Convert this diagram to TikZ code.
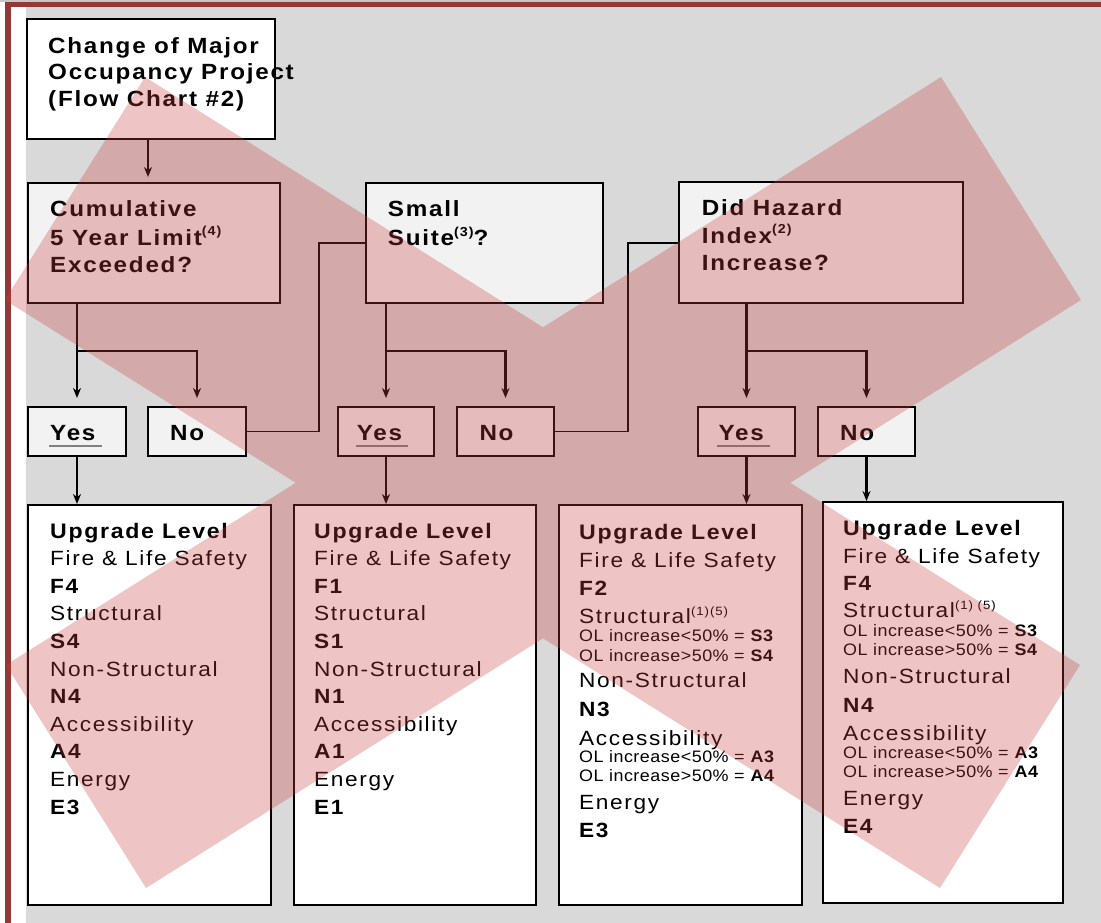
\documentclass[tikz,border=0pt]{standalone}
\usepackage{fontspec}
\setmainfont{Liberation Sans}
\newfontfamily\wide[FakeStretch=1.1,LetterSpace=8]{Liberation Sans}
\newfontfamily\snug[FakeStretch=1.08,LetterSpace=3]{Liberation Sans}
\usetikzlibrary{arrows.meta,calc}

\definecolor{paper}{HTML}{D9D9D9}
\definecolor{frame}{HTML}{953735}
\definecolor{pale}{HTML}{F2F2F2}
\definecolor{veil}{RGB}{200,60,60}
\definecolor{rulegray}{HTML}{808080}

% raised footnote marker: raise (pt), size (pt), text
\newcommand\supnote[3]{\raisebox{#1pt}{\fontsize{#2}{#2}\selectfont #3}}

\tikzset{
  box/.style={draw=black,line width=2pt,inner sep=0pt},
  startbox/.style={box,fill=white},
  askbox/.style={box,fill=pale},
  ansbox/.style={box,fill=pale},
  resbox/.style={box,fill=white},
  head/.style={anchor=base west,inner sep=0pt,font=\wide\bfseries\fontsize{22}{26}\selectfont},
  ans/.style={anchor=base west,inner sep=0pt,font=\wide\bfseries\fontsize{22}{26}\selectfont},
  item/.style={anchor=base west,inner sep=0pt,font=\wide\fontsize{20.6}{24}\selectfont},
  itemb/.style={anchor=base west,inner sep=0pt,font=\wide\bfseries\fontsize{20.6}{24}\selectfont},
  title/.style={anchor=base west,inner sep=0pt,font=\wide\bfseries\fontsize{21}{24}\selectfont},
  note/.style={anchor=base west,inner sep=0pt,font=\snug\fontsize{16.6}{19}\selectfont},
  arr/.style={line width=2.5pt,-{Stealth[length=10pt,width=8pt]}},
  link/.style={line width=1.8pt},
  uline/.style={rulegray,line width=2pt},
}

\begin{document}
\begin{tikzpicture}[x=1pt,y=-1pt]
\useasboundingbox (0,0) rectangle (1101,923);

% page background and frame
\fill[white] (0,0) rectangle (1101,923);
\fill[black!22] (0,0) rectangle (1101,2);
\fill[paper] (26,7) rectangle (1101,923);
\fill[frame] (5,2) rectangle (1101,7);
\fill[frame] (5,2) rectangle (11,923);

% boxes
\node[startbox,minimum width=248pt,minimum height=120pt] (start) at (151,79) {};
\node[askbox,minimum width=252pt,minimum height=120pt] (cum) at (154,243) {};
\node[askbox,minimum width=237pt,minimum height=120pt] (small) at (484.5,243) {};
\node[askbox,minimum width=284pt,minimum height=121pt] (hazard) at (821,242.5) {};

\node[ansbox,minimum width=98pt,minimum height=49pt] (yes1) at (77,431.5) {};
\node[ansbox,minimum width=98pt,minimum height=49pt] (no1) at (197,431.5) {};
\node[ansbox,minimum width=96pt,minimum height=49pt] (yes2) at (386,431.5) {};
\node[ansbox,minimum width=97pt,minimum height=49pt] (no2) at (505.5,431.5) {};
\node[ansbox,minimum width=97pt,minimum height=49pt] (yes3) at (746.5,431.5) {};
\node[ansbox,minimum width=97pt,minimum height=49pt] (no3) at (866.5,431.5) {};

\node[resbox,minimum width=243pt,minimum height=400pt] (r1) at (149.5,705) {};
\node[resbox,minimum width=242pt,minimum height=400pt] (r2) at (415,705) {};
\node[resbox,minimum width=243pt,minimum height=400pt] (r3) at (680.5,705) {};
\node[resbox,minimum width=240pt,minimum height=401pt] (r4) at (943,702.5) {};

% connectors
\draw[arr,shorten >=5pt] ([xshift=-3pt]start.south) -- ([xshift=-6pt]cum.north);

\coordinate (fork1) at (77,351);
\coordinate (fork2) at (386,351);
\coordinate (fork3) at (746.5,351);
\draw[arr,shorten >=8pt] (cum.south -| yes1) -- (yes1.north);
\draw[arr,shorten >=8pt] (fork1) -| (no1.north);
\draw[arr,shorten >=8pt] (small.south -| yes2) -- (yes2.north);
\draw[arr,shorten >=8pt] (fork2) -| (no2.north);
\draw[arr,shorten >=8pt] (hazard.south -| yes3) -- (yes3.north);
\draw[arr,shorten >=8pt] (fork3) -| (no3.north);

\coordinate (bend1) at (319,243);
\coordinate (bend2) at (628,243);
\draw[link] (no1.east) -| (bend1) -- (small.west |- bend1);
\draw[link] (no2.east) -| (bend2) -- (hazard.west |- bend2);

\draw[arr] (yes1.south) -- (yes1.south |- r1.north);
\draw[arr] (yes2.south) -- (yes2.south |- r2.north);
\draw[arr] (yes3.south) -- (yes3.south |- r3.north);
\draw[arr] (no3.south) -- (no3.south |- r4.north);

% question texts
\node[head] (s1) at (48,53.3) {Change of Major};
\node[head] (s2) at (48,80) {Occupancy Project};
\node[head] (s3) at (48,107) {(Flow Chart \#2)};

\node[head] (c1) at (50,216.7) {Cumulative};
\node[head] (c2) at (50,245) {5 Year Limit\supnote{10}{13}{(4)}};
\node[head] (c3) at (50,272.7) {Exceeded?};

\node[head] (m1) at (387.7,216.7) {Small};
\node[head] (m2) at (387.7,245) {Suite\supnote{9}{13}{(3)}?};

\node[head] (h1) at (701.7,215) {Did Hazard};
\node[head] (h2) at (701.7,243.3) {Index\supnote{10}{13}{(2)}};
\node[head] (h3) at (701.7,270) {Increase?};

% answers
\node[ans] (yes1t) at (50,440.7) {Yes};
\node[ans] (no1t) at (170,440.7) {No};
\node[ans] (yes2t) at (356.7,440.7) {Yes};
\node[ans] (no2t) at (479.3,440.7) {No};
\node[ans] (yes3t) at (718.3,440.7) {Yes};
\node[ans] (no3t) at (840,440.7) {No};
\draw[uline] ($(yes1t.base west)+(-1,5.5)$) -- ($(yes1t.base east)+(6,5.5)$);
\draw[uline] ($(yes2t.base west)+(-1,5.5)$) -- ($(yes2t.base east)+(6,5.5)$);
\draw[uline] ($(yes3t.base west)+(-1,5.5)$) -- ($(yes3t.base east)+(6,5.5)$);

% upgrade levels
\foreach \s/\t [count=\k from 0] in {title/Upgrade Level, item/Fire \& Life Safety, itemb/F4,
    item/Structural, itemb/S4, item/Non-Structural, itemb/N4, item/Accessibility, itemb/A4,
    item/Energy, itemb/E3}
  \node[\s] (r1t\k) at (50,{538+27.6*\k}) {\t};

\foreach \s/\t [count=\k from 0] in {title/Upgrade Level, item/Fire \& Life Safety, itemb/F1,
    item/Structural, itemb/S1, item/Non-Structural, itemb/N1, item/Accessibility, itemb/A1,
    item/Energy, itemb/E1}
  \node[\s] (r2t\k) at (314,{538+27.6*\k}) {\t};

\foreach \s/\y/\t [count=\k] in {title/539/Upgrade Level, item/567/Fire \& Life Safety,
    itemb/595/F2, item/623/Structural\supnote{7.5}{12}{(1)(5)},
    note/641.7/OL increase<50\% = \textbf{S3}, note/661/OL increase>50\% = \textbf{S4},
    item/687.7/Non-Structural, itemb/716/N3, item/745/Accessibility,
    note/762.7/OL increase<50\% = \textbf{A3}, note/781.7/OL increase>50\% = \textbf{A4},
    item/809.3/Energy, itemb/837.7/E3}
  \node[\s] (r3t\k) at (579,\y) {\t};

\foreach \s/\y/\t [count=\k] in {title/535/Upgrade Level, item/563.3/Fire \& Life Safety,
    itemb/590.7/F4, item/617.3/Structural\supnote{7.5}{12}{(1) (5)},
    note/636.7/OL increase<50\% = \textbf{S3}, note/655.7/OL increase>50\% = \textbf{S4},
    item/683.3/Non-Structural, itemb/712.7/N4, item/740/Accessibility,
    note/758.3/OL increase<50\% = \textbf{A3}, note/777.3/OL increase>50\% = \textbf{A4},
    item/805/Energy, itemb/833.3/E4}
  \node[\s] (r4t\k) at (843,\y) {\t};

% translucent cross laid over the whole chart
\fill[veil,opacity=0.3]
  (145,77) -- (1080,665) -- (940,888) -- (5,300) -- cycle
  (941,77) -- (1081,300) -- (146,888) -- (6,665) -- cycle;
\end{tikzpicture}
\end{document}
